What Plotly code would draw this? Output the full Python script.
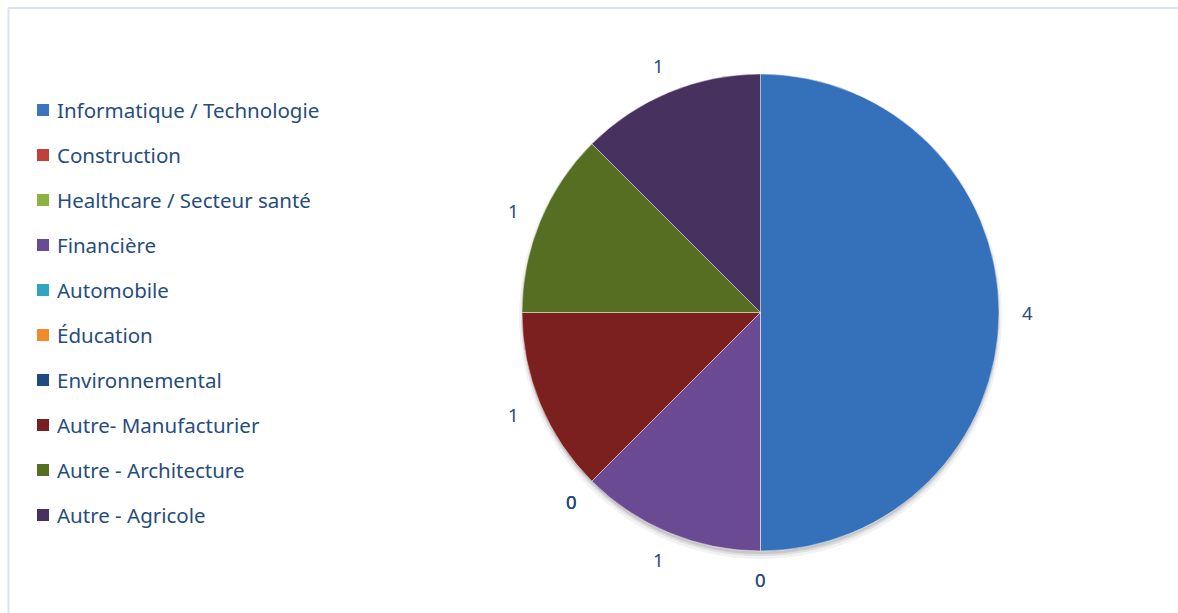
import math
import plotly.graph_objects as go

# Sector breakdown
sectors = [
    "Informatique / Technologie",
    "Construction",
    "Healthcare / Secteur santé",
    "Financière",
    "Automobile",
    "Éducation",
    "Environnemental",
    "Autre- Manufacturier",
    "Autre - Architecture",
    "Autre - Agricole",
]
counts = [4, 0, 0, 1, 0, 0, 0, 1, 1, 1]

# Slice fills and legend swatches
slice_colors = [
    "#3571BA", "#B8403D", "#8BAA45", "#6A4A92", "#3AA0BA",
    "#F0862F", "#1F4A7E", "#7B1F1F", "#566E22", "#47315F",
]
swatch_colors = [
    "#3D74BC", "#C0403D", "#8DB040", "#6A4A92", "#2FA5C3",
    "#F08A2A", "#1F4A7E", "#7A1F1F", "#566E22", "#47315F",
]

W, H = 1178, 613
TEXT = "#264D7E"
FONT = "Noto Sans"

# Pie geometry (pixels)
cx, cy, r = 760.5, 312.5, 238.5
label_r = 267


def px(x):
    return x / W


def py(y):
    return 1 - y / H


fig = go.Figure()
fig.add_trace(go.Pie(
    labels=sectors,
    values=counts,
    sort=False,
    direction="clockwise",
    rotation=0,
    textinfo="none",
    hoverinfo="label+value",
    showlegend=False,
    marker=dict(colors=slice_colors,
                line=dict(color="rgba(255,255,255,0.45)", width=1)),
    domain=dict(x=[px(cx - r), px(cx + r)], y=[py(cy + r), py(cy - r)]),
))

annotations = []
total = sum(counts)
cum = 0
for name, v in zip(sectors, counts):
    theta = math.radians((cum + v / 2) / total * 360)
    cum += v
    lx = cx + label_r * math.sin(theta)
    ly = cy - label_r * math.cos(theta)
    annotations.append(dict(
        x=px(lx), y=py(ly), xref="paper", yref="paper",
        text=str(v), showarrow=False, xanchor="center", yanchor="middle",
        font=dict(family=FONT, size=18.5, color=TEXT),
    ))

shapes = []
# soft drop shadow under the pie
for grow, dy, alpha in [(4, 4, 0.05), (2, 3, 0.08), (1, 2, 0.10)]:
    shapes.append(dict(
        type="circle", xref="paper", yref="paper", layer="below",
        x0=px(cx - r - grow + 1), x1=px(cx + r + grow - 1),
        y0=py(cy + r + grow + dy), y1=py(cy - r - grow + dy),
        fillcolor=f"rgba(0,0,0,{alpha})", line=dict(width=0),
    ))

# Legend rows
row0, row_step = 110, 45
for i, (name, col) in enumerate(zip(sectors, swatch_colors)):
    yc = row0 + i * row_step
    shapes.append(dict(
        type="rect", xref="paper", yref="paper",
        x0=px(37), x1=px(49), y0=py(yc + 6), y1=py(yc - 6),
        fillcolor=col, line=dict(width=0),
    ))
    annotations.append(dict(
        x=px(55), y=py(yc), xref="paper", yref="paper",
        text=name, showarrow=False, xanchor="left", yanchor="middle",
        font=dict(family=FONT, size=20.5, color=TEXT),
    ))

# Chart frame (top and left edges)
frame = "#D9E3F1"
shapes.append(dict(type="line", xref="paper", yref="paper",
                   x0=px(8), x1=1, y0=py(8), y1=py(8),
                   line=dict(color=frame, width=2)))
shapes.append(dict(type="line", xref="paper", yref="paper",
                   x0=px(8.5), x1=px(8.5), y0=py(8), y1=0,
                   line=dict(color=frame, width=2)))

fig.update_layout(
    width=W, height=H,
    margin=dict(l=0, r=0, t=0, b=0),
    paper_bgcolor="white",
    plot_bgcolor="white",
    annotations=annotations,
    shapes=shapes,
)

fig.write_html("out.html")
